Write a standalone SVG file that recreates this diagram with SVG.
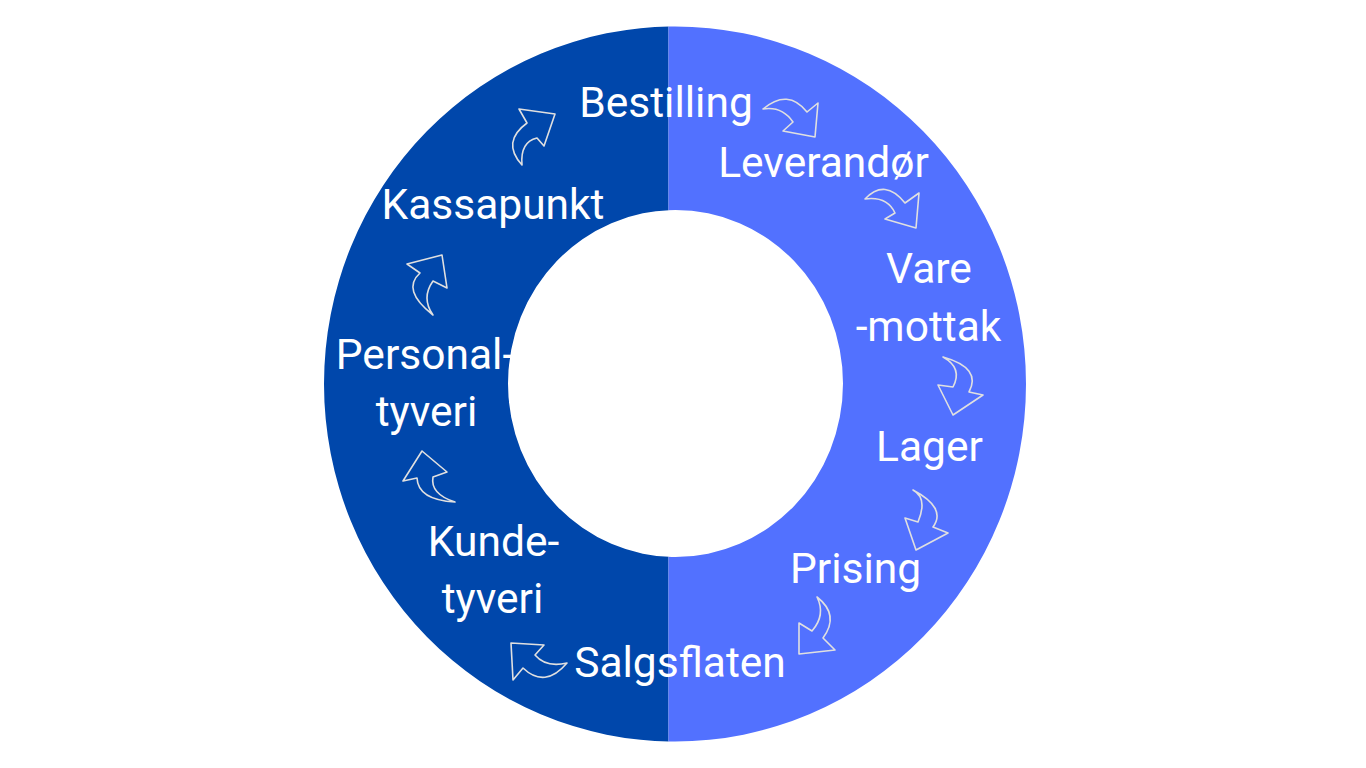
<svg xmlns="http://www.w3.org/2000/svg" width="1366" height="768" viewBox="0 0 1366 768">
<defs>
<style>
.lbl{font-family:Roboto,"Liberation Sans",sans-serif;font-size:42.5px;fill:#ffffff;text-anchor:middle}
.arr{fill:none;stroke:#e0e0e0;stroke-width:1.6;stroke-linejoin:round}
</style>
<clipPath id="cl"><rect x="0" y="0" width="668.5" height="768"/></clipPath>
<clipPath id="cr"><rect x="668.5" y="0" width="700" height="768"/></clipPath>
</defs>
<rect width="1366" height="768" fill="#ffffff"/>
<g id="ring">
<path clip-path="url(#cl)" fill="#0047AB" fill-rule="evenodd" d="M324,384 A351,357.5 0 1 0 1026,384 A351,357.5 0 1 0 324,384 Z M508,383.5 A167.5,173.5 0 1 1 843,383.5 A167.5,173.5 0 1 1 508,383.5 Z"/>
<path clip-path="url(#cr)" fill="#5271FF" fill-rule="evenodd" d="M324,384 A351,357.5 0 1 0 1026,384 A351,357.5 0 1 0 324,384 Z M508,383.5 A167.5,173.5 0 1 1 843,383.5 A167.5,173.5 0 1 1 508,383.5 Z"/>
</g>
<g id="connectors">
<path class="arr" d="M519,109 L555,114 L544,146 L537,138 Q520,142 522,165 Q501,142 527,123 Z"/>
<path class="arr" d="M763,109 Q788,88 807,112 L818,103 L815,137 L783,131 L793,122 Q782,106 763,109 Z"/>
<path class="arr" d="M865,199 Q885,178 905,203 L919,193 L916,228 L885,219 L895,213 Q887,196 865,199 Z"/>
<path class="arr" d="M943,357 Q982,368 969,392 L983,395 L953,415 L938,385 L953,387 Q963,368 943,357 Z"/>
<path class="arr" d="M913,490 Q947,508 933,527 L948,533 L916,550 L905,518 L918,522 Q928,498 913,490 Z"/>
<path class="arr" d="M817,597 Q840,615 823,638 L835,650 L799,654 L799,623 L812,631 Q826,615 817,597 Z"/>
<path class="arr" d="M567,663 Q545,689 523,668 L513,680 L511,643 L544,645 L535,655 Q546,668 567,663 Z"/>
<path class="arr" d="M422,451 L447,472 L433,477 Q430,494 455,502 Q418,500 417,478 L403,481 Z"/>
<path class="arr" d="M407,264 L442,255 L447,288 L433,281 Q421,298 433,315 Q401,290 420,273 Z"/>
</g>
<g id="n-bestilling"><text class="lbl" x="666" y="117">Bestilling</text></g>
<g id="n-leverandor"><text class="lbl" x="823.5" y="177">Leverandør</text></g>
<g id="n-varemottak"><text class="lbl" x="929" y="283">Vare</text><text class="lbl" x="928.5" y="341">-mottak</text></g>
<g id="n-lager"><text class="lbl" x="929.5" y="461">Lager</text></g>
<g id="n-prising"><text class="lbl" x="855.5" y="583">Prising</text></g>
<g id="n-salgsflaten"><text class="lbl" x="680" y="677">Salgsflaten</text></g>
<g id="n-kundetyveri"><text class="lbl" x="493.5" y="556">Kunde-</text><text class="lbl" x="492.5" y="613">tyveri</text></g>
<g id="n-personaltyveri"><text class="lbl" x="425" y="369">Personal-</text><text class="lbl" x="426.5" y="426">tyveri</text></g>
<g id="n-kassapunkt"><text class="lbl" x="493" y="219">Kassapunkt</text></g>
</svg>
